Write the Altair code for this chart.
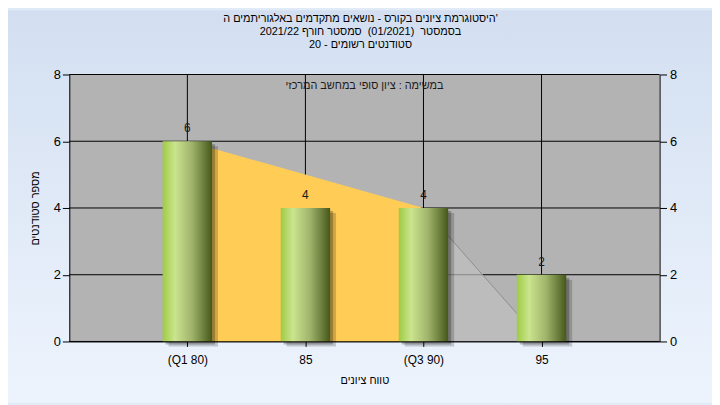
import altair as alt
import pandas as pd

# ---- data ----
categories = ["(Q1 80)", "85", "(Q3 90)", "95"]
counts = [6, 4, 4, 2]
y_ticks = [0, 2, 4, 6, 8]
iqr_x = ["(Q1 80)", "(Q3 90)"]
iqr_y = [6, 4]
tail_x = ["(Q3 90)", "95"]
tail_y = [4, 0]
title_lines = [
    "היסטוגרמת ציונים בקורס - נושאים מתקדמים באלגוריתמים ה'",
    "בסמסטר \u00a0(01/2021) \u00a0סמסטר חורף 2021/22",
    "סטודנטים רשומים - 20",
]
inner_note = "במשימה : ציון סופי במחשב המרכזי"
x_title = "טווח ציונים"
y_title = "מספר סטודנטים"

# ---- layout ----
W, H = 597, 270
PAD = {"left": 62, "top": 65, "right": 53, "bottom": 62}
FONT = "Liberation Sans, DejaVu Sans, Arial, sans-serif"
LRM = "\u200e"  # keeps each title line's bidi run on its own line

bars_df = pd.DataFrame({"cat": categories, "n": counts})
grid_df = pd.DataFrame({"v": y_ticks})
cat_df = pd.DataFrame({"cat": categories})
iqr_df = pd.DataFrame({"cat": iqr_x, "n": iqr_y})
tail_df = pd.DataFrame({"cat": tail_x, "n": tail_y})

xscale = alt.Scale(type="point", domain=categories, padding=1)
yscale = alt.Scale(domain=[0, 8], nice=False, zero=True)

def X(axis=None):
    return alt.X("cat:O", scale=xscale, sort=categories, axis=axis)

def Y(field="n:Q", axis=None):
    return alt.Y(field, scale=yscale, axis=axis)

bg = alt.Chart(alt.Data(values=[{"a": 1}])).mark_rect(
    clip=False,
    color=alt.Gradient(
        gradient="linear",
        stops=[alt.GradientStop(color="#d3dff1", offset=0),
               alt.GradientStop(color="#edf4fd", offset=1)],
        x1=0, x2=0, y1=0, y2=1,
    ),
).encode(x=alt.value(-PAD["left"]), x2=alt.value(W + PAD["right"]),
         y=alt.value(-PAD["top"]), y2=alt.value(H + PAD["bottom"]))

plot_bg = alt.Chart(alt.Data(values=[{"a": 1}])).mark_rect(color="#b3b3b3").encode(
    x=alt.value(0), x2=alt.value(W), y=alt.value(0), y2=alt.value(H))

axis_common = dict(
    labelFont=FONT, labelColor="black", labelFontSize=13,
    tickColor="black", domainColor="black", domainWidth=1, tickWidth=1,
    titleFont=FONT, titleColor="black", titleFontSize=11, titleFontWeight="normal",
    grid=False, zindex=1,
)

hgrid = alt.Chart(grid_df).mark_rule(color="black", strokeWidth=1).encode(
    y=Y("v:Q", axis=alt.Axis(orient="right", values=y_ticks, format="d", tickSize=7,
                             labelPadding=3, title=None, **axis_common)))

vgrid = alt.Chart(cat_df).mark_rule(color="black", strokeWidth=1).encode(x=X())

tail = alt.Chart(tail_df).mark_area(
    color="#c0c0c0", line=alt.OverlayMarkDef(color="#8e8e8e", strokeWidth=1)
).encode(x=X(), y=Y())

iqr = alt.Chart(iqr_df).mark_area(color="#ffcc55").encode(x=X(), y=Y())

shadow1 = alt.Chart(bars_df).mark_bar(size=50, xOffset=6, yOffset=5, color="black",
                                      opacity=0.18, clip=False).encode(x=X(), y=Y())
shadow2 = alt.Chart(bars_df).mark_bar(size=50, xOffset=3, yOffset=3, color="black",
                                      opacity=0.25, clip=False).encode(x=X(), y=Y())

bar_grad = alt.Gradient(
    gradient="linear",
    stops=[alt.GradientStop(color="#9fcb44", offset=0),
           alt.GradientStop(color="#cbe48f", offset=0.25),
           alt.GradientStop(color="#9fb26a", offset=0.6),
           alt.GradientStop(color="#45581a", offset=1)],
    x1=0, x2=1, y1=0, y2=0,
)

bars = alt.Chart(bars_df).mark_bar(size=50, color=bar_grad).encode(
    x=X(alt.Axis(title=x_title, labelAngle=0, labelFontSize=12, tickSize=5,
                 labelPadding=8, titlePadding=10,
                 **{k: v for k, v in axis_common.items() if k != "labelFontSize"})),
    y=Y(axis=alt.Axis(orient="left", values=y_ticks, format="d", tickSize=7,
                      labelPadding=2, title=y_title, titlePadding=13, **axis_common)),
)

labels = alt.Chart(bars_df).mark_text(
    font=FONT, fontSize=12, color="#1a1a1a", baseline="alphabetic", dy=-9
).encode(x=X(), y=Y(), text="n:Q")

note = alt.Chart(alt.Data(values=[{"t": inner_note}])).mark_text(
    font=FONT, fontSize=11, color="#1a1a1a", baseline="alphabetic"
).encode(x=alt.value(W / 2), y=alt.value(15), text="t:N")

chart = alt.layer(
    bg, plot_bg, hgrid, vgrid, tail, iqr, shadow1, shadow2, bars, labels, note
).resolve_axis(x="independent", y="independent").properties(
    width=W, height=H,
    autosize=alt.AutoSizeParams(type="none"),
    padding=PAD,
    background="#e1ebf8",
    title=alt.TitleParams(
        text=[LRM + t + LRM for t in title_lines], font=FONT, fontSize=11,
        fontWeight="normal", color="black",
        lineHeight=13, anchor="middle", frame="group", offset=0, dy=40, dx=-4,
    ),
).configure_view(stroke=None)

chart.save("out.html", embed_options={"renderer": "svg", "actions": False})
